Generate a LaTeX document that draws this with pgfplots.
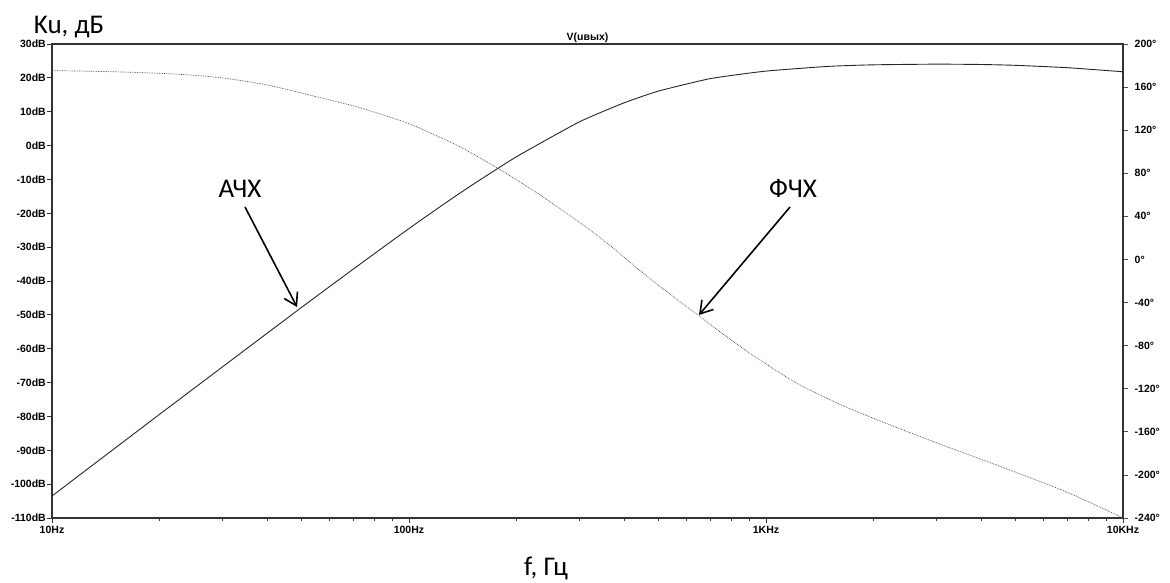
\documentclass[border=0pt]{standalone}
\usepackage{fontspec}
\setmainfont{Liberation Sans}
\newfontfamily\calfont{Carlito}
\usepackage{pgfplots}
\pgfplotsset{compat=1.18}
\usetikzlibrary{arrows.meta}

\begin{document}
\begin{tikzpicture}
\useasboundingbox (-52pt,-64pt) rectangle (1118pt,518pt);
\begin{axis}[
  name=main,
  scale only axis, width=1071pt, height=474pt,
  xmode=log, xmin=10, xmax=10000,
  ymin=-110, ymax=30,
  xtick={10,100,1000,10000},
  xticklabels={10Hz,100Hz,1KHz,10KHz},
  minor xtick={20,30,40,50,60,70,80,90,200,300,400,500,600,700,800,900,2000,3000,4000,5000,6000,7000,8000,9000},
  ytick={-110,-100,...,30},
  yticklabel={\pgfmathprintnumber{\tick}dB},
  /pgf/number format/assume math mode=true,
  tick label style={font=\bfseries\fontsize{10.5}{12}\selectfont, text=black},
  yticklabel style={inner sep=1pt, xshift=0pt},
  tick align=outside, xtick pos=bottom, ytick pos=left,
  major tick length=5pt, minor tick length=3pt,
  tick style={black!80, line width=0.8pt},
  axis line style={black!80, line width=1.2pt},
  title={V(uвых)},
  title style={font=\bfseries\fontsize{10.5}{12}\selectfont, yshift=-8pt},
]
\addplot[black!85, line width=0.9pt, smooth, tension=0.3] coordinates {
(10,-103.5) (15,-89.4) (20,-79.4) (30,-65.4) (50,-47.8) (70,-36.4) (100,-24.5)
(130,-16.1) (150,-11.7) (200,-3.3) (300,7.0) (400,12.6) (500,16.1) (700,19.8)
(1000,22.0) (1500,23.4) (2000,23.85) (3000,24.05) (4000,23.95) (5000,23.7)
(7000,23.0) (10000,21.8)
};
\node[anchor=base, font=\calfont\fontsize{27}{32}\selectfont] at (rel axis cs:0.1755,0.677) {АЧХ};
\node[anchor=base, font=\calfont\fontsize{27}{32}\selectfont] at (rel axis cs:0.6919,0.677) {ФЧХ};
\draw[line width=1.6pt, -{Straight Barb[length=12pt,width=15pt,line width=1.6pt]}] (rel axis cs:0.1802,0.6561) -- (rel axis cs:0.2288,0.4451);
\draw[line width=1.6pt, -{Straight Barb[length=12pt,width=15pt,line width=1.6pt]}] (rel axis cs:0.6891,0.6561) -- (rel axis cs:0.6041,0.4283);
\end{axis}
\begin{axis}[
  scale only axis, width=1071pt, height=474pt,
  xmode=log, xmin=10, xmax=10000,
  ymin=-240, ymax=200,
  axis x line=none, axis y line*=right,
  ytick={-240,-200,...,200},
  yticklabel={\pgfmathprintnumber{\tick}°},
  /pgf/number format/assume math mode=true,
  tick label style={font=\bfseries\fontsize{10.5}{12}\selectfont, text=black},
  yticklabel style={inner sep=1pt, xshift=5.5pt},
  tick align=outside,
  major tick length=5pt,
  tick style={black!70, line width=0.8pt},
  axis line style={black!80, line width=1.2pt},
]
\addplot[black!75, line width=0.7pt, densely dotted, smooth, tension=0.5] coordinates {
(10,175.3) (15,174.2) (22.4,172.0) (30,168.5) (40,162) (55.2,150.9) (70,142.5)
(84.5,134.2) (100,126) (114.5,117.6) (140,104) (180,83.3) (240,57) (343,20.3)
(450,-12) (563,-37.2) (653,-52.9) (800,-75) (1000,-97) (1245,-116.5) (1600,-134)
(2047,-148.8) (2937,-169) (4521,-192) (6965,-216) (10000,-240)
};
\end{axis}
\node[anchor=base, inner sep=0pt, font=\calfont\fontsize{27}{32}\selectfont] at (17pt,484pt) {Ku, дБ};
\node[anchor=base, inner sep=0pt, font=\calfont\fontsize{27}{32}\selectfont] at (494pt,-57pt) {f, Гц};
\end{tikzpicture}
\end{document}
